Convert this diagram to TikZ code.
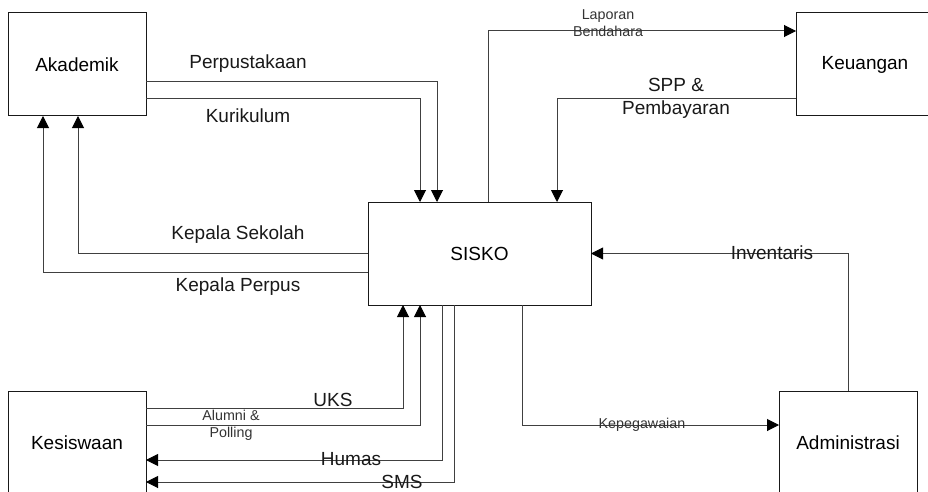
\documentclass[tikz,border=0pt]{standalone}
\usepackage{fontspec}
\setmainfont{Liberation Sans}
\usetikzlibrary{arrows.meta}
\begin{document}
\begin{tikzpicture}[x=1pt,y=-1pt,
 box/.style={draw=black!90,line width=1pt,minimum width=138pt,minimum height=103pt,inner sep=0pt,outer sep=0pt,font=\fontsize{19}{22}\selectfont},
 flow/.style={draw=black!75,line width=1pt,-{Triangle[length=12pt,width=12pt,color=black]}},
 lbl/.style={font=\fontsize{19}{23}\selectfont,inner sep=0pt,align=center,text=black!90},
 slbl/.style={font=\fontsize{14.3}{17}\selectfont,inner sep=0pt,align=center,text=black!80}]
\useasboundingbox (0,0) rectangle (928,492);
\clip (0,0) rectangle (928,492);
\node[box] (ak) at (77,64.5) {Akademik};
\node[box] (ke) at (865,64.5) {Keuangan};
\node[box,minimum width=223pt] (si) at (479.5,253.5) {SISKO};
\node[box] (ks) at (77,442.5) {Kesiswaan};
\node[box] (ad) at (848,442.5) {Administrasi};
% Akademik <-> SISKO
\draw[flow] (ak.east |- 0,82) -| (si.north -| 437,0);
\draw[flow] (ak.east |- 0,99) -| (si.north -| 420,0);
\draw[flow] (si.west |- 0,253) -| (ak.south -| 78,0);
\draw[flow] (si.west |- 0,272) -| (ak.south -| 43,0);
% Keuangan
\draw[flow] (si.north -| 488,0) |- (ke.west |- 0,31);
\draw[flow] (ke.west |- 0,99) -| (si.north -| 557,0);
% Administrasi
\draw[flow] (ad.north) |- (si.east);
\draw[flow] (si.south -| 522,0) |- (ad.west |- 0,425);
% Kesiswaan
\draw[flow] (ks.east |- 0,408) -| (si.south -| 403,0);
\draw[flow] (ks.east |- 0,425) -| (si.south -| 420,0);
\draw[flow] (si.south -| 442,0) |- (ks.east |- 0,460);
\draw[flow] (si.south -| 454,0) |- (ks.east |- 0,482);
% labels
\node[lbl] (lperp) at (248,64) {Perpustakaan};
\node[lbl] (lkur) at (248,116) {Kurikulum};
\node[lbl] (lkeps) at (238,235) {Kepala Sekolah};
\node[lbl] (lkepp) at (238,287) {Kepala Perpus};
\node[slbl] (llap) at (608,23.5) {Laporan\\Bendahara};
\node[lbl] (lspp) at (676,98.5) {SPP \&\\Pembayaran};
\node[lbl] (linv) at (772,253) {Inventaris};
\node[slbl] (lkpg) at (642,425) {Kepegawaian};
\node[lbl] (luks) at (333,400) {UKS};
\node[slbl] (lalu) at (231,425) {Alumni \&\\Polling};
\node[lbl] (lhum) at (351,459) {Humas};
\node[lbl] (lsms) at (402,482) {SMS};
\end{tikzpicture}
\end{document}
